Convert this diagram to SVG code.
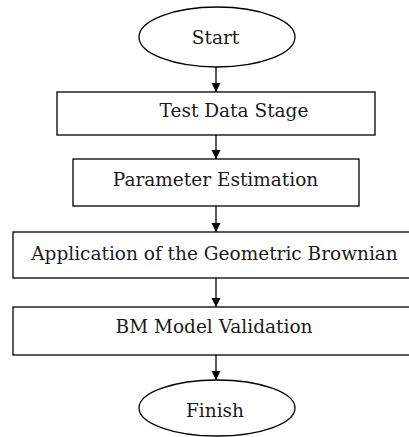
<svg xmlns="http://www.w3.org/2000/svg" width="409" height="437" viewBox="0 0 409 437">
<defs>
<style>
.shape{fill:#ffffff;stroke:#000000;stroke-width:1.3}
.lbl{font-family:"DejaVu Serif","Liberation Serif",serif;font-size:18.5px;fill:#1a1a1a;text-anchor:middle}
.conn{stroke:#000000;stroke-width:1.3;fill:none}
</style>
<marker id="ah" markerWidth="9" markerHeight="10" refX="9" refY="5" orient="auto" markerUnits="userSpaceOnUse">
<path d="M0,0.5 L9,5 L0,9.5 Z" fill="#000000"/>
</marker>
</defs>
<rect width="409" height="437" fill="#ffffff"/>
<g id="connectors">
<line class="conn" x1="216" y1="67" x2="216" y2="92" marker-end="url(#ah)"/>
<line class="conn" x1="216" y1="135" x2="216" y2="159" marker-end="url(#ah)"/>
<line class="conn" x1="216" y1="206" x2="216" y2="232" marker-end="url(#ah)"/>
<line class="conn" x1="216" y1="278" x2="216" y2="307" marker-end="url(#ah)"/>
<line class="conn" x1="216" y1="355" x2="216" y2="380" marker-end="url(#ah)"/>
</g>
<g id="start">
<ellipse class="shape" cx="217" cy="37" rx="78" ry="30"/>
<text class="lbl" x="215.5" y="44">Start</text>
</g>
<g id="test-data">
<rect class="shape" x="57" y="92" width="318" height="43"/>
<text class="lbl" x="234" y="117">Test Data Stage</text>
</g>
<g id="param-est">
<rect class="shape" x="73" y="159" width="286" height="47"/>
<text class="lbl" x="215.5" y="186">Parameter Estimation</text>
</g>
<g id="application">
<rect class="shape" x="13" y="232" width="402" height="46"/>
<text class="lbl" x="214.5" y="260">Application of the Geometric Brownian</text>
</g>
<g id="validation">
<rect class="shape" x="13" y="307" width="402" height="48"/>
<text class="lbl" x="214" y="333">BM Model Validation</text>
</g>
<g id="finish">
<ellipse class="shape" cx="217" cy="408" rx="78" ry="28"/>
<text class="lbl" x="215" y="417">Finish</text>
</g>
</svg>
